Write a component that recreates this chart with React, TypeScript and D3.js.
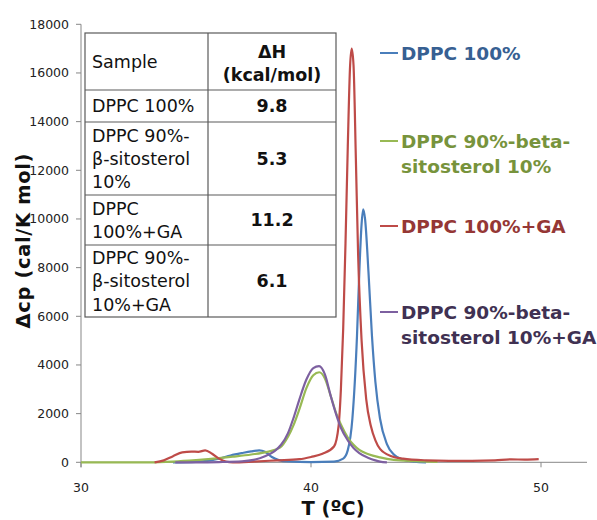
import React from "react";
import * as d3 from "d3";

// ---------- data ----------
const yTickValues = [0, 2000, 4000, 6000, 8000, 10000, 12000, 14000, 16000, 18000];
const xTickValues = [30, 40, 50];

const seriesNames = [
  ["DPPC 100%"],
  ["DPPC 90%-beta-", "sitosterol 10%"],
  ["DPPC 100%+GA"],
  ["DPPC 90%-beta-", "sitosterol 10%+GA"],
];

// [T (°C), Δcp]
const dppc100: [number, number][] = [
  [34.0, 0], [35.0, 20], [35.5, 60], [36.0, 150], [36.5, 280], [37.0, 380], [37.4, 450],
  [37.75, 490], [38.0, 430], [38.3, 220], [38.6, 90], [39.0, 35], [40.0, 10], [41.0, 30],
  [41.4, 150], [41.6, 500], [41.8, 1800], [42.0, 5200], [42.1, 7800], [42.2, 9800],
  [42.27, 10400], [42.35, 10000], [42.5, 7800], [42.65, 5200], [42.8, 3300], [43.0, 1800],
  [43.3, 750], [43.6, 320], [44.0, 110], [44.5, 30], [45.0, 0],
];

const dppc90Sito: [number, number][] = [
  [30, 0], [33, 0], [34, 30], [35, 90], [36, 170], [36.6, 230], [37.4, 320], [38.1, 430],
  [38.65, 600], [39.0, 1050], [39.25, 1550], [39.5, 2200], [39.8, 3050], [40.1, 3580],
  [40.36, 3700], [40.6, 3450], [40.85, 2750], [41.1, 2000], [41.3, 1550], [41.6, 1020],
  [41.85, 720], [42.1, 510], [42.5, 330], [43.0, 200], [43.6, 100], [44.5, 50], [45.5, 20],
];

const dppc100GA: [number, number][] = [
  [33.2, 0], [33.6, 80], [34.0, 250], [34.4, 410], [34.8, 440], [35.1, 430], [35.4, 490],
  [35.7, 350], [36.0, 150], [36.3, 30], [36.6, 0], [37.5, 30], [38.5, 80], [39.5, 130],
  [40.0, 220], [40.5, 350], [41.0, 650], [41.2, 1500], [41.3, 3000], [41.4, 5500],
  [41.5, 9000], [41.6, 13000], [41.7, 16300], [41.77, 17000], [41.85, 16300], [41.95, 12500],
  [42.05, 8500], [42.2, 5000], [42.4, 2600], [42.6, 1500], [42.8, 900], [43.0, 550],
  [43.5, 250], [44.0, 150], [45.0, 80], [46.0, 60], [47.0, 60], [48.0, 80], [48.7, 120],
  [49.3, 110], [49.9, 130],
];

const dppc90SitoGA: [number, number][] = [
  [34.1, 0], [35, 0], [36, 10], [37, 40], [37.5, 100], [38, 250], [38.4, 450], [38.7, 720],
  [39.0, 1200], [39.25, 1850], [39.5, 2600], [39.8, 3400], [40.1, 3870], [40.35, 3950],
  [40.6, 3620], [40.85, 2750], [41.1, 1950], [41.3, 1420], [41.6, 900], [41.85, 590],
  [42.1, 380], [42.5, 180], [42.8, 80], [43.0, 30], [43.3, 0],
];

const seriesData = [dppc100, dppc90Sito, dppc100GA, dppc90SitoGA];
const lineColors = ["#4A7EBB", "#98B954", "#BE4B48", "#7D60A0"];
const textColors = ["#376092", "#77933C", "#953735", "#403152"];

const tableHeader = ["Sample", ["ΔH", "(kcal/mol)"]];
const tableSamples = [
  ["DPPC 100%"],
  ["DPPC 90%-", "β-sitosterol", "10%"],
  ["DPPC", "100%+GA"],
  ["DPPC 90%-", "β-sitosterol", "10%+GA"],
];
const tableDeltaH = ["9.8", "5.3", "11.2", "6.1"];

// ---------- layout ----------
const W = 597;
const H = 520;
const x = d3.scaleLinear().domain([30, 52]).range([81, 587]);
const y = d3.scaleLinear().domain([0, 18000]).range([462.3, 24.3]);

const font = "'DejaVu Sans', Verdana, sans-serif";

export default function App() {
  const line = d3
    .line<[number, number]>()
    .x((d) => x(d[0]))
    .y((d) => y(d[1]))
    .curve(d3.curveMonotoneX);

  // table geometry
  const tLeft = 85, tMid = 208, tRight = 336;
  const rowEdges = [33, 90, 122, 195, 245, 317];
  const lineH = 23.3;

  const legendY = [53, 141, 226, 312];

  return (
    <svg
      width={W}
      height={H}
      style={{ position: "absolute", left: 0, top: 0, background: "#fff" }}
      fontFamily={font}
    >
      <rect x={0} y={0} width={W} height={H} fill="#fff" />
      {/* axes */}
      <line x1={x(30)} x2={x(30)} y1={y(18000)} y2={y(0) + 5} stroke="#878787" strokeWidth={1} />
      <line x1={x(30)} x2={x(52)} y1={y(0)} y2={y(0)} stroke="#878787" strokeWidth={1} />
      {yTickValues.map((v) => (
        <g key={"yt" + v}>
          <line x1={x(30) - 5} x2={x(30)} y1={y(v)} y2={y(v)} stroke="#878787" />
          <text x={69} y={y(v)} dy="0.36em" textAnchor="end" fontSize={12.5} fill="#222">
            {v}
          </text>
        </g>
      ))}
      {xTickValues.map((v) => (
        <g key={"xt" + v}>
          <line x1={x(v)} x2={x(v)} y1={y(0)} y2={y(0) + 5} stroke="#878787" />
          <text x={x(v)} y={487} dy="0.36em" textAnchor="middle" fontSize={12.5} fill="#222">
            {v}
          </text>
        </g>
      ))}
      {/* axis titles */}
      <text x={333} y={508} dy="0.36em" textAnchor="middle" fontSize={19.5} fontWeight="bold" fill="#111">
        T (ºC)
      </text>
      <text
        transform="translate(23,241) rotate(-90)"
        textAnchor="middle"
        dy="0.36em"
        fontSize={19.5}
        fontWeight="bold"
        fill="#111"
        textLength={175}
        lengthAdjust="spacing"
      >
        Δcp (cal/K mol)
      </text>

      {/* series */}
      {seriesData.map((d, i) => (
        <path key={"s" + i} d={line(d) || ""} fill="none" stroke={lineColors[i]} strokeWidth={2.2} />
      ))}

      {/* table */}
      <rect x={tLeft} y={rowEdges[0]} width={tRight - tLeft} height={rowEdges[5] - rowEdges[0]} fill="#fff" stroke="#5a5a5a" strokeWidth={1.2} />
      <line x1={tMid} x2={tMid} y1={rowEdges[0]} y2={rowEdges[5]} stroke="#5a5a5a" strokeWidth={1.2} />
      {rowEdges.slice(1, 5).map((ry) => (
        <line key={"r" + ry} x1={tLeft} x2={tRight} y1={ry} y2={ry} stroke="#5a5a5a" strokeWidth={1.2} />
      ))}
      <text x={92} y={(rowEdges[0] + rowEdges[1]) / 2} dy="0.36em" fontSize={17.5} fill="#111">
        {tableHeader[0] as string}
      </text>
      {(tableHeader[1] as string[]).map((t, k) => (
        <text key={"h" + k} x={(tMid + tRight) / 2} y={52 + k * 23} dy="0.36em" textAnchor="middle" fontSize={17.5} fontWeight="bold" fill="#111">
          {t}
        </text>
      ))}
      {tableSamples.map((lines, r) => {
        const cy = (rowEdges[r + 1] + rowEdges[r + 2]) / 2;
        const start = cy - ((lines.length - 1) * lineH) / 2;
        return (
          <g key={"row" + r}>
            {lines.map((t, k) => (
              <text key={k} x={92} y={start + k * lineH} dy="0.36em" fontSize={17.5} fill="#111">
                {t}
              </text>
            ))}
            <text x={(tMid + tRight) / 2} y={cy} dy="0.36em" textAnchor="middle" fontSize={17.5} fontWeight="bold" fill="#111">
              {tableDeltaH[r]}
            </text>
          </g>
        );
      })}

      {/* legend */}
      {seriesNames.map((lines, i) => (
        <g key={"lg" + i}>
          <line x1={380} x2={398} y1={legendY[i]} y2={legendY[i]} stroke={lineColors[i]} strokeWidth={2} />
          {lines.map((t, k) => (
            <text key={k} x={401} y={legendY[i] + k * 25.5} dy="0.36em" fontSize={18.5} fontWeight="bold" fill={textColors[i]}>
              {t}
            </text>
          ))}
        </g>
      ))}
    </svg>
  );
}
